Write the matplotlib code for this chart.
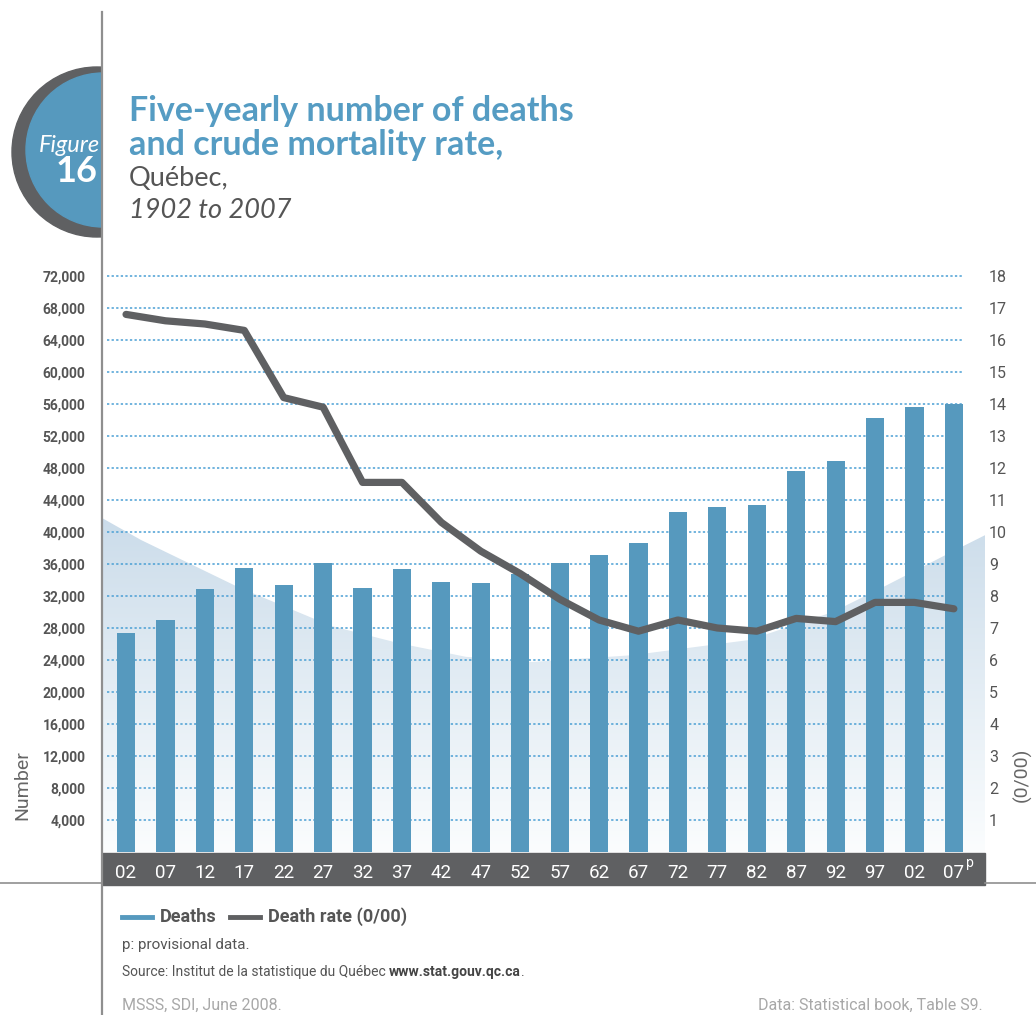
import numpy as np
import matplotlib.pyplot as plt
from matplotlib.patches import Rectangle, Circle, Polygon
from matplotlib.lines import Line2D
from matplotlib.colors import LinearSegmentedColormap

# Five-yearly deaths and crude mortality rate, Quebec 1902-2007
years = ['02', '07', '12', '17', '22', '27', '32', '37', '42', '47', '52',
         '57', '62', '67', '72', '77', '82', '87', '92', '97', '02', '07']
deaths = [27400, 29000, 32900, 35500, 33400, 36100, 33000, 35400, 33750, 33600, 34750,
          36100, 37100, 38600, 42500, 43100, 43400, 47600, 48900, 54300, 55600, 56000]
rate = [16.8, 16.6, 16.5, 16.3, 14.2, 13.9, 11.55, 11.55, 10.3, 9.4, 8.7,
        7.9, 7.25, 6.9, 7.25, 7.0, 6.9, 7.3, 7.2, 7.8, 7.8, 7.6]
left_ticks = list(range(4000, 72001, 4000))
right_ticks = list(range(1, 19))

# decorative backdrop curve (in bar index / left axis units)
backdrop_x = [-0.61, 0.38, 2.85, 5.21, 6.92, 8.62, 10.30, 12.84, 15.81, 17.93, 19.20, 20.90, 21.79]
backdrop_y = [41750, 39000, 33100, 28250, 26100, 24400, 23750, 24600, 26500, 30000, 33100, 37400, 39600]

BLUE = '#5699be'
DARK = '#5f6062'
GREY = '#555555'
narrow = ['Liberation Sans Narrow', 'Roboto', 'DejaVu Sans']

W, H = 1036, 1015
fig = plt.figure(figsize=(W / 100, H / 100), dpi=100)


def fx(px):
    return px / W


def fy(py):
    return 1 - py / H


ax = fig.add_axes([fx(102), fy(852), 883 / W, (852 - 276) / H])
x = np.arange(len(years))
xmin, xmax = -0.61, 21.79

# backdrop gradient
cmap = LinearSegmentedColormap.from_list('bd', ['#fbfdfe', '#cbdcea'])
grad = np.linspace(1, 0, 256).reshape(-1, 1)
img = ax.imshow(grad, extent=(xmin, xmax, 0, 42000), cmap=cmap, aspect='auto', zorder=0.5)
poly = Polygon(list(zip(backdrop_x, backdrop_y)) + [(xmax, 0), (xmin, 0)],
               closed=True, transform=ax.transData, facecolor='none', edgecolor='none')
ax.add_patch(poly)
img.set_clip_path(poly)

for v in left_ticks:
    ax.axhline(v, xmin=5 / 883, xmax=860 / 883, color='#4a9fd4', lw=1.1,
               ls=(0, (1.5, 1.5)), zorder=1, clip_on=False)

ax.bar(x, deaths, width=0.46, color=BLUE, zorder=2)
ax.set_xlim(xmin, xmax)
ax.set_ylim(0, 72000)
ax.set_yticks(left_ticks)
ax.set_yticklabels([f'{v:,}' for v in left_ticks], family=narrow, weight='bold')
ax.tick_params(axis='y', length=0, pad=12, labelsize=10, labelcolor=GREY)
ax.set_xticks(x)
ax.set_xticklabels(years, family=narrow)
ax.tick_params(axis='x', length=0, pad=9, labelsize=13.5, labelcolor='white')
for s in ax.spines.values():
    s.set_visible(False)

# dark band behind the year labels
ax.add_patch(Rectangle((0, -33 / 576), 1, 32 / 576, transform=ax.transAxes,
                       color=DARK, clip_on=False, zorder=0.1))
ax.text(21.32, -0.0185, 'p', transform=ax.get_xaxis_transform(), color='white',
        fontsize=10, family=narrow, va='center', ha='left')

ax2 = ax.twinx()
ax2.plot(x, rate, color=DARK, lw=5.2, solid_capstyle='round', solid_joinstyle='round', zorder=3)
ax2.set_ylim(0, 18)
ax2.set_yticks(right_ticks)
ax2.set_yticklabels([str(v) for v in right_ticks], family=narrow)
ax2.tick_params(axis='y', length=0, pad=3, labelsize=11.5, labelcolor=GREY)
for s in ax2.spines.values():
    s.set_visible(False)

# frame lines
fig.add_artist(Line2D([fx(102), fx(102)], [fy(12), fy(1015)], color='#8f8f8f', lw=1.6))
fig.add_artist(Line2D([0, fx(102)], [fy(883), fy(883)], color='#8f8f8f', lw=1.2))
fig.add_artist(Line2D([fx(985), 1], [fy(883), fy(883)], color='#8f8f8f', lw=1.2))

# axis titles
fig.text(fx(22), fy(785), 'Number', rotation=90, ha='center', va='center',
         fontsize=14, color='#666666', family=narrow)
fig.text(fx(1022), fy(775), '(0/00)', rotation=90, ha='center', va='center',
         fontsize=14, color='#666666', family=narrow)

# badge
bx = fig.add_axes([0, fy(245), fx(102), 185 / H])
bx.set_xlim(0, 102)
bx.set_ylim(245, 60)
bx.axis('off')
bx.add_patch(Circle((97, 152), 85, color=DARK))
bx.add_patch(Circle((103, 150), 77, color='#5699be'))
bx.text(100, 152, 'Figure', ha='right', va='baseline', color='white', fontsize=17,
        style='italic', family=['Lato', 'DejaVu Sans'])
bx.text(98, 182, '16', ha='right', va='baseline', color='white', fontsize=26,
        weight='bold', family=['Lato', 'DejaVu Sans'])

# titles
tfont = ['Lato', 'DejaVu Sans']
fig.text(fx(129), fy(121), 'Five-yearly number of deaths', fontsize=24.5, weight='bold',
         color='#559cc3', family=tfont, va='baseline')
fig.text(fx(129), fy(155), 'and crude mortality rate,', fontsize=24.5, weight='bold',
         color='#559cc3', family=tfont, va='baseline')
fig.text(fx(129), fy(186), 'Québec,', fontsize=19.5, color=GREY, family=tfont, va='baseline')
fig.text(fx(129), fy(218), '1902 to 2007', fontsize=19.5, color=GREY, style='italic',
         family=tfont, va='baseline')

# legend
fig.add_artist(Line2D([fx(122), fx(152)], [fy(917), fy(917)], color=BLUE, lw=3.5))
fig.text(fx(160), fy(917), 'Deaths', fontsize=13, color=GREY, family=narrow,
         weight='bold', va='center')
fig.add_artist(Line2D([fx(230), fx(260)], [fy(917), fy(917)], color=DARK, lw=3.5))
fig.text(fx(268), fy(917), 'Death rate (0/00)', fontsize=13, color=GREY, family=narrow,
         weight='bold', va='center')

fig.text(fx(122), fy(945), 'p: provisional data.', fontsize=11, color=GREY,
         family=narrow, va='center')
t = fig.text(fx(122), fy(972), 'Source: Institut de la statistique du Québec ', fontsize=10,
             color=GREY, family=narrow, va='center')
fig.canvas.draw()
bb = t.get_window_extent()
t2 = fig.text(bb.x1 / W, fy(972), 'www.stat.gouv.qc.ca', fontsize=10, color='#444444',
              family=narrow, weight='bold', va='center')
bb2 = t2.get_window_extent()
fig.text(bb2.x1 / W, fy(972), '.', fontsize=10, color=GREY, family=narrow, va='center')

fig.text(fx(122), fy(1005), 'MSSS, SDI, June 2008.', fontsize=11.5, color='#a8a8a8',
         family=narrow, va='center')
fig.text(fx(983), fy(1005), 'Data: Statistical book, Table S9.', fontsize=11.5,
         color='#a8a8a8', family=narrow, va='center', ha='right')

fig.savefig('out.png', dpi=100)
